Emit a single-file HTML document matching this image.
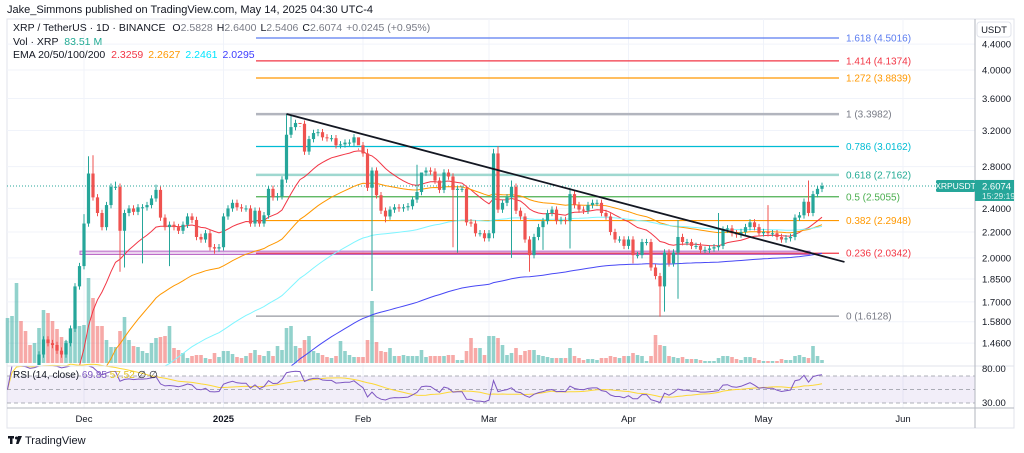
<!DOCTYPE html>
<html style="width:1024px;height:453px;overflow:hidden;"><head><meta charset="utf-8"><style>
html,body{margin:0;padding:0;background:#fff;width:1024px;height:453px;overflow:hidden;}
body{font-family:"Liberation Sans",sans-serif;position:relative;}
svg{display:block;position:absolute;left:0;top:0;}
svg text{font-family:"Liberation Sans",sans-serif;}
</style></head><body>
<svg id="chart" width="1024" height="453" viewBox="0 0 1024 453" overflow="hidden" xmlns="http://www.w3.org/2000/svg">
<text x="7" y="13" font-size="11" fill="#131722">Jake_Simmons published on TradingView.com, May 14, 2025 04:30 UTC-4</text>
<rect x="7" y="19" width="1007" height="409" fill="none" stroke="#e0e3eb" stroke-width="1"/>
<g id="grid"></g>
<g id="fib"></g>
<g id="vol"></g>
<g id="ema"></g>
<g id="candles"></g>
<g id="rsi"></g>
<g id="axes"></g>
<g font-size="10.5">
<text x="13" y="31" fill="#131722">XRP / TetherUS · 1D · BINANCE <tspan dx="4">O</tspan><tspan fill="#787b86">2.5828</tspan><tspan dx="4">H</tspan><tspan fill="#787b86">2.6400</tspan><tspan dx="4">L</tspan><tspan fill="#787b86">2.5406</tspan><tspan dx="4">C</tspan><tspan fill="#787b86">2.6074</tspan><tspan dx="4" fill="#787b86">+0.0245 (+0.95%)</tspan></text>
<text x="13" y="45" fill="#131722">Vol · XRP <tspan dx="3" fill="#22ab94">83.51 M</tspan></text>
<text x="13" y="58" fill="#131722">EMA 20/50/100/200 <tspan dx="3" fill="#f23645">2.3259</tspan><tspan dx="5" fill="#ff9800">2.2627</tspan><tspan dx="5" fill="#00e5ff">2.2461</tspan><tspan dx="5" fill="#3d3dff">2.0295</tspan></text>
</g>
<g>
<rect x="8" y="436" width="6" height="2.5" fill="#131722"/><rect x="10" y="436" width="2.5" height="8" fill="#131722"/><circle cx="16.5" cy="438" r="1.5" fill="#131722"/><path d="M18 436 L22 436 L18.5 444 L16 444 Z" fill="#131722"/>
<text x="25" y="444" font-size="11" fill="#131722">TradingView</text>
</g>
</svg>
<script>
// ---- data ----
const startDate = "2024-11-14";
const closes = [0.90,1.00,1.16,1.12,1.11,1.10,1.12,1.40,1.48,1.46,1.45,1.42,1.40,1.46,1.54,1.80,1.94,
2.27,2.73,2.50,2.36,2.24,2.43,2.60,2.60,2.21,2.36,2.40,2.37,2.41,2.41,2.43,2.49,2.57,2.32,2.24,2.26,2.24,2.21,2.26,2.33,2.30,2.16,2.14,2.19,2.08,2.07,2.08,
2.33,2.40,2.45,2.41,2.40,2.40,2.27,2.38,2.27,2.34,2.58,2.50,2.51,2.67,3.15,3.24,3.29,3.28,2.96,3.10,3.17,3.18,3.12,3.11,3.11,3.03,3.04,3.06,3.06,3.12,3.03,
2.94,2.59,2.76,2.52,2.38,2.33,2.39,2.41,2.40,2.41,2.42,2.48,2.55,2.74,2.76,2.75,2.66,2.57,2.74,2.70,2.57,2.58,2.58,2.28,2.27,2.19,2.19,2.15,2.19,
2.94,2.39,2.45,2.50,2.60,2.38,2.33,2.14,2.02,2.16,2.24,2.29,2.36,2.39,2.29,2.30,2.29,2.53,2.43,2.39,2.38,2.43,2.45,2.45,2.36,2.33,2.20,2.14,2.14,2.09,
2.14,2.02,2.02,2.12,2.12,1.93,1.87,1.80,2.04,1.96,2.04,2.16,2.12,2.12,2.09,2.09,2.06,2.06,2.07,2.08,2.09,2.22,2.23,2.19,2.18,2.20,2.24,2.28,2.24,2.19,
2.20,2.19,2.19,2.16,2.14,2.15,2.16,2.32,2.34,2.46,2.36,2.53,2.58,2.6074];
const highOverrides = {17:2.35,18:2.91,19:2.92,24:2.65,33:2.62,62:3.40,63:3.38,65:3.25,78:2.98,80:2.99,91:2.82,92:2.73,108:2.99,109:3.02,112:2.66,125:2.59,149:2.30,158:2.36,169:2.43,178:2.66,181:2.64};
const lowOverrides = {25:1.90,26:1.93,30:1.96,36:1.94,46:2.03,81:1.77,84:2.28,99:2.08,100:2.04,108:2.15,112:2.00,116:1.90,119:2.06,125:2.07,139:1.96,145:1.61,146:1.64,149:1.72};
const volumes = [45,47,80,42,32,18,20,35,53,50,42,34,26,22,35,43,37,
38,85,65,37,37,23,16,16,32,46,23,17,16,12,10,20,25,26,27,37,15,13,10,5,7,8,8,5,4,10,6,
12,12,9,6,5,7,10,13,8,7,12,7,17,13,35,37,17,15,23,27,12,10,8,6,5,7,22,12,8,6,6,
6,23,62,21,12,11,15,7,7,8,7,7,7,13,6,7,7,7,7,8,8,3,3,12,25,15,15,8,27,
27,25,18,8,10,15,8,12,13,13,8,7,6,5,5,5,5,15,7,5,3,4,4,3,5,5,7,6,5,7,7,10,8,7,2,7,28,18,17,7,6,5,6,4,4,4,3,2,2,2,5,7,7,6,4,3,6,6,5,3,2,2,2,2,4,3,3,7,8,6,5,17,7,3];
const emaPeriods = [20,50,100,200];
const emaSeeds = [0.80,0.68,0.62,0.58];
const emaColors = ["#f23645","#ff9800","#7ff5ff","#4848f5"];
const priceTicks = [4.4,4.0,3.6,3.2,2.8,2.4,2.2,2.0,1.85,1.7,1.58,1.46];
const monthLabels = ["Dec","2025","Feb","Mar","Apr","May","Jun"];
const monthDays = [17,48,79,107,138,168,199];
const fibRatios = ["1.618","1.414","1.272","1","0.786","0.618","0.5","0.382","0.236","0"];
const fibPrices = [4.5016,4.1374,3.8839,3.3982,3.0162,2.7162,2.5055,2.2948,2.0342,1.6128];
const fibColors = ["#5b7cf0","#f23645","#ff9800","#b2b5be","#00bcd4","#9fd8d0","#4caf50","#ff9800","#f23645","#9598a1"];
const trendStart = [62, 3.40];
const trendEnd = [186, 1.97];
const zoneLow = 2.025, zoneHigh = 2.05;
const lastPrice = 2.6074;

// ---- scales ----
const NS="http://www.w3.org/2000/svg";
const X0=84-17*4.5, DX=4.5;
function xs(i){return X0+i*DX;}
function ys(p){return 70+(Math.log(4)-Math.log(p))*271;}
const VB=363, VK=1.0;
function yv(v){return VB-v*VK;}
const R70=376,R30=403;
function yr(r){return R30-(r-30)*(R30-R70)/40;}
function mk(tag,attrs,parent){const e=document.createElementNS(NS,tag);for(const k in attrs)e.setAttribute(k,attrs[k]);parent.appendChild(e);return e;}
const PANE_R=975;
const grid=document.getElementById('grid');
priceTicks.forEach(p=>{const l=mk('line',{x1:7,x2:PANE_R,y1:ys(p),y2:ys(p),stroke:'#f0f3fa'},grid);

});
monthDays.forEach(d=>{const l=mk('line',{x1:xs(d),x2:xs(d),y1:19,y2:408,stroke:'#f0f3fa'},grid);

});

// fib
const fib=document.getElementById('fib');
fibPrices.forEach((p,i)=>{const y=ys(p);
const w=(fibRatios[i]==="1"||fibRatios[i]==="0.618")?2.5:1.2;
const l=mk('line',{x1:256,x2:839,y1:y,y2:y,stroke:fibColors[i],'stroke-width':w},fib);


const t=mk('text',{x:846,y:y+3.5,'font-size':10,fill:(fibRatios[i]==="0.618"?"#22ab94":fibRatios[i]==="1"||fibRatios[i]==="0"?"#787b86":fibColors[i])},fib);
t.textContent=fibRatios[i]+" ("+p.toFixed(4)+")";

});
const zr=mk('rect',{x:80,y:ys(zoneHigh),width:730,height:ys(zoneLow)-ys(zoneHigh),fill:'rgba(156,39,176,0.2)',stroke:'#ba68c8','stroke-width':1},fib);


const cp=mk('line',{x1:7,x2:PANE_R,y1:ys(lastPrice),y2:ys(lastPrice),stroke:'#26a69a','stroke-dasharray':'1 2','stroke-width':1},fib);



// volume
const vol=document.getElementById('vol');
closes.forEach((c,i)=>{const o=i>0?closes[i-1]:c*0.9;const up=c>=o;
const r=mk('rect',{x:xs(i)-1.8,y:yv(volumes[i]),width:3.6,height:volumes[i]*VK,fill:up?'rgba(38,166,154,0.5)':'rgba(239,83,80,0.5)'},vol);

});

// ema
const emaG=document.getElementById('ema');
emaPeriods.forEach((n,k)=>{let e=emaSeeds[k];const a=2/(n+1);const pts=[];
closes.forEach((c,i)=>{e=e+a*(c-e);const y=ys(e);pts.push(xs(i).toFixed(1)+','+Math.min(y,366).toFixed(1));});
const pl=mk('polyline',{points:pts.join(' '),fill:'none',stroke:emaColors[k],'stroke-width':1},emaG);

});

// candles
const cg=document.getElementById('candles');
const clip=mk('clipPath',{id:'pc'},cg);mk('rect',{x:7,y:19,width:968,height:346},clip);
cg.setAttribute('clip-path','url(#pc)');
closes.forEach((c,i)=>{const o=i>0?closes[i-1]:c*0.92;const up=c>=o;const col=up?'#26a69a':'#ef5350';
const h=highOverrides[i]!==undefined?highOverrides[i]:Math.max(o,c)*1.012;
const lo=lowOverrides[i]!==undefined?lowOverrides[i]:Math.min(o,c)*0.988;
const g=mk('g',{},cg);


mk('line',{x1:xs(i),x2:xs(i),y1:ys(h),y2:ys(lo),stroke:col,'stroke-width':1},g);
const yt=ys(Math.max(o,c)),yb=ys(Math.min(o,c));
mk('rect',{x:xs(i)-1.6,y:yt,width:3.2,height:Math.max(1,yb-yt),fill:col},g);});
const tl=mk('line',{x1:xs(trendStart[0]),y1:ys(trendStart[1]),x2:xs(trendEnd[0]),y2:ys(trendEnd[1]),stroke:'#131722','stroke-width':1.8},cg);



// rsi
const rg=document.getElementById('rsi');
const bg=mk('rect',{x:7,y:R70,width:PANE_R-7,height:R30-R70,fill:'rgba(126,87,194,0.1)'},rg);


[70,50,30].forEach(v=>{const l=mk('line',{x1:7,x2:PANE_R,y1:yr(v),y2:yr(v),stroke:'#9598a1','stroke-dasharray':'4 3','stroke-width':0.8},rg);

});
let ag=0,al=0;const rsi=[];
closes.forEach((c,i)=>{if(i===0){rsi.push(50);return;}const d=c-closes[i-1];const gn=Math.max(d,0),ls=Math.max(-d,0);
if(i<=14){ag+=gn/14;al+=ls/14;}else{ag=(ag*13+gn)/14;al=(al*13+ls)/14;}
rsi.push(al===0?100:100-100/(1+ag/al));});
const rma=rsi.map((v,i)=>{const s=rsi.slice(Math.max(0,i-13),i+1);return s.reduce((a,b)=>a+b,0)/s.length;});
const rp=mk('polyline',{points:rma.map((v,i)=>xs(i).toFixed(1)+','+yr(v).toFixed(1)).join(' '),fill:'none',stroke:'#fdd835','stroke-width':1},rg);


const rl=mk('polyline',{points:rsi.map((v,i)=>xs(i).toFixed(1)+','+Math.max(366,Math.min(407,yr(v))).toFixed(1)).join(' '),fill:'none',stroke:'#7e57c2','stroke-width':1},rg);


const rt=mk('text',{x:13,y:378,'font-size':10,fill:'#131722'},rg);
rt.innerHTML='RSI (14, close) <tspan fill="#7e57c2">69.85</tspan> <tspan fill="#e0c020">57.52</tspan> ∅ ∅';


const sepL=mk('line',{x1:7,x2:1014,y1:366,y2:366,stroke:'#e0e3eb'},rg);



// axes
const ax=document.getElementById('axes');
const vs=mk('line',{x1:PANE_R,x2:PANE_R,y1:19,y2:428,stroke:'#b2b5be'},ax);


const hs=mk('line',{x1:7,x2:1014,y1:408,y2:408,stroke:'#b2b5be'},ax);


priceTicks.forEach(p=>{const t=mk('text',{x:982,y:ys(p)+3.5,'font-size':9.5,fill:'#131722'},ax);t.textContent=p.toFixed(4);

});
[[80,372],[30,406]].forEach(a=>{const t=mk('text',{x:982,y:a[1],'font-size':9.5,fill:'#131722'},ax);t.textContent=a[0].toFixed(2);

});
monthLabels.forEach((m,i)=>{const t=mk('text',{x:xs(monthDays[i]),y:422,'font-size':9.5,fill:'#131722','text-anchor':'middle','font-weight':m==='2025'?'bold':'normal'},ax);t.textContent=m;

});
const ub=mk('rect',{x:977,y:22,width:34,height:15,rx:3,fill:'#fff',stroke:'#e0e3eb'},ax);


const ut=mk('text',{x:994,y:33,'font-size':9.5,fill:'#131722','text-anchor':'middle'},ax);ut.textContent='USDT';


const yl=ys(lastPrice);
const st=mk('rect',{x:936,y:yl-6,width:39,height:12,rx:1.5,fill:'#26a69a'},ax);


const stt=mk('text',{x:955.5,y:yl+3,'font-size':8.5,fill:'#fff','text-anchor':'middle'},ax);stt.textContent='XRPUSDT';


const pt=mk('rect',{x:975,y:yl-6,width:39,height:21,fill:'#26a69a'},ax);


const ptt=mk('text',{x:982,y:yl+3.5,'font-size':9.5,fill:'#fff'},ax);ptt.textContent=lastPrice.toFixed(4);


const ctt=mk('text',{x:982,y:yl+13,'font-size':8.5,fill:'#d8f0ed'},ax);ctt.textContent='15:29:19';


</script>
</body></html>
